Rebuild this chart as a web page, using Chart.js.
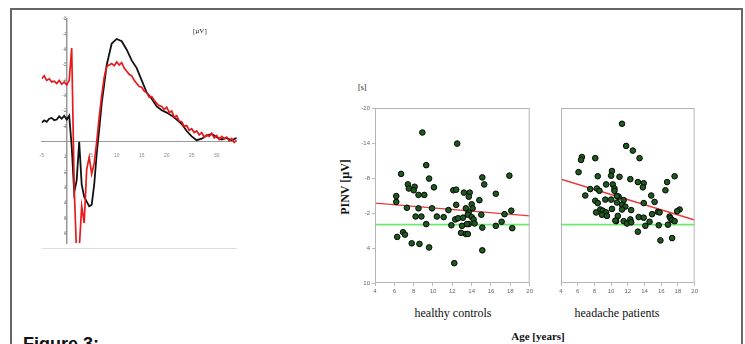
<!DOCTYPE html>
<html>
<head>
<meta charset="utf-8">
<script src="https://cdn.jsdelivr.net/npm/chart.js@4.4.1/dist/chart.umd.min.js"></script>
<style>
  body { margin: 0; width: 745px; height: 344px; overflow: hidden; background: #fff; position: relative; }
  .frame { position: absolute; left: 10px; top: 8px; width: 729px; height: 400px; border: 2px solid #666; border-bottom: none; }
  canvas { position: absolute; }
  .lbl { position: absolute; white-space: nowrap; color: #111; font-family: "Liberation Serif", "DejaVu Serif", serif; }
</style>
</head>
<body>
<div class="frame"></div>
<canvas id="erp" style="left:32px;top:12px;width:210px;height:239px"></canvas>
<canvas id="ctrl" style="left:355px;top:100px;width:180px;height:200px"></canvas>
<canvas id="pat" style="left:535px;top:100px;width:165px;height:200px"></canvas>

<div class="lbl" style="left:193px;top:27px;font-size:7px;">[µV]</div>
<div class="lbl" style="left:358px;top:83px;font-size:8px;">[s]</div>
<div class="lbl" style="left:345px;top:187px;font-size:12px;font-weight:bold;transform:translate(-50%,-50%) rotate(-90deg);">PINV [µV]</div>
<div class="lbl" style="left:453px;top:306px;font-size:12px;transform:translateX(-50%);">healthy controls</div>
<div class="lbl" style="left:617px;top:306px;font-size:12px;transform:translateX(-50%);">headache patients</div>
<div class="lbl" style="left:538px;top:330px;font-size:11px;font-weight:bold;transform:translateX(-50%);">Age [years]</div>
<div class="lbl" style="left:23px;top:334px;font-size:18px;font-weight:bold;font-family:'Liberation Sans', Arial, sans-serif;">Figure 3:</div>

<script>
// ERP-криві (час у 100 мс, амплітуда в мкВ, негатив догори)
const blackTime = [-5, -4.5, -4, -3.5, -3, -2.5, -2, -1.5, -1, -0.5, 0, 0.5, 1, 1.5, 2, 2.5, 3, 3.5, 4, 4.5, 5, 5.5, 6, 6.5, 7,
  8, 9, 10, 11, 12, 13, 14, 15, 16, 17, 18, 19, 20, 21, 22, 23, 24, 25, 26, 27, 28, 29, 30, 31, 32, 33, 34];
const erpBlack = [-1.25, -1.4, -1.3, -1.5, -1.55, -1.4, -1.45, -1.65, -1.5, -1.7, -1.45, -1.7, 0.3, 3.3, 2.5, 0.0, 2.8, 3.6, 3.9, 4.2, 4.1, 2.8, 0.8, -0.8, -2.5,
  -5.0, -6.4, -6.7, -6.55, -6.0, -5.3, -4.8, -4.0, -3.2, -2.8, -2.3, -2.05, -1.9, -1.7, -1.45, -1.15, -0.7, -0.35, -0.1, -0.2, -0.4, -0.5, -0.3, -0.15, -0.25, -0.1, -0.25];
const redTime = [-5, -4.5, -4, -3.5, -3, -2.5, -2, -1.5, -1, -0.5, 0, 0.5, 1, 1.5, 2, 2.5, 3, 3.5, 4, 4.5,
  5, 5.5, 6, 6.5, 7, 7.5, 8, 8.5, 9, 9.5, 10, 10.5, 11, 11.5, 12, 12.5, 13, 13.5, 14, 14.5,
  15, 15.5, 16, 16.5, 17, 17.5, 18, 18.5, 19, 19.5, 20, 20.5, 21, 21.5, 22, 22.5, 23, 23.5, 24, 24.5,
  25, 25.5, 26, 26.5, 27, 27.5, 28, 28.5, 29, 29.5, 30, 30.5, 31, 31.5, 32, 32.5, 33, 33.5, 34];
const erpRed = [-4.1, -4.3, -4.0, -4.1, -3.9, -3.95, -3.8, -4.0, -3.75, -3.9, -3.7, -4.0, -6.1, 3.0, 7.5, 7.0, 4.2, 5.3, 1.8, 1.0,
  2.1, 1.4, 0.0, -1.6, -3.0, -4.2, -4.9, -5.0, -5.1, -4.95, -5.2, -5.0, -5.15, -4.8, -4.6, -4.4, -4.3, -4.0, -3.8, -3.6,
  -3.55, -3.3, -3.2, -2.9, -2.95, -2.7, -2.5, -2.35, -2.3, -2.1, -2.25, -1.9, -2.0, -1.6, -1.7, -1.35, -1.3, -1.0, -1.05, -0.75,
  -0.85, -0.6, -0.7, -0.45, -0.6, -0.3, -0.45, -0.35, -0.55, -0.25, -0.4, -0.15, -0.35, -0.2, -0.3, -0.05, -0.2, 0.05, -0.1];
const erpXTicks = [-5, 5, 10, 15, 20, 25, 30];
const erpYTicks = [-8, -7, -6, -5, -4, -3, -2, -1, 1, 2, 3, 4, 5, 6];

// PINV за віком
const controlAges = [8.9, 12.5, 9.3, 6.7, 9.6, 17.9, 15.1, 15.3, 7.4, 8.1, 7.5, 8.0, 8.5, 9.1, 10.1, 6.2, 6.2, 12.1, 12.4, 13.2,
  13.8, 13.7, 16.5, 14.8, 7.3, 8.5, 9.9, 11.6, 12.4, 13.4, 14.0, 14.1, 13.7, 8.2, 8.8, 10.4, 11.1, 15.0, 18.1, 17.4,
  9.3, 11.9, 12.3, 12.6, 13.1, 13.6, 14.0, 14.2, 13.7, 13.5, 13.0, 14.3, 15.1, 16.5, 17.1, 18.2, 6.3, 6.9, 7.1, 7.8,
  8.6, 9.6, 12.9, 13.4, 13.6, 15.1, 12.2];
const controlValues = [-15.8, -13.9, -10.2, -8.7, -7.9, -8.4, -8.1, -6.9, -6.9, -6.5, -6.2, -5.9, -5.1, -5.1, -6.4, -4.9, -3.9, -5.9, -6.0, -5.5,
  -5.5, -4.8, -5.3, -4.2, -2.9, -2.8, -2.8, -2.5, -3.4, -2.8, -3.5, -2.8, -2.1, -1.4, -1.4, -1.4, -1.3, -1.7, -2.4, -1.8,
  -0.1, 0.1, -0.9, -1.1, -1.2, -1.7, -1.3, -0.9, -0.1, -0.1, 0.2, -0.2, 0.5, 0.2, -0.5, 0.6, 2.1, 1.3, 1.7, 3.2,
  3.3, 3.9, 1.4, 1.6, 1.6, 4.4, 6.6];
const patientAges = [11.3, 11.8, 12.6, 13.4, 6.5, 6.4, 8.1, 6.1, 10.1, 10.0, 11.0, 8.4, 12.3, 13.2, 13.9, 13.8, 10.2, 10.4, 9.4, 7.5,
  8.3, 8.6, 6.9, 10.4, 10.9, 10.7, 8.1, 9.3, 10.0, 11.5, 10.7, 8.4, 11.3, 11.7, 13.9, 14.8, 15.2, 16.5, 16.7, 17.6,
  8.2, 8.7, 9.0, 9.4, 8.9, 9.5, 10.1, 11.3, 12.4, 10.8, 10.6, 10.5, 11.5, 11.9, 12.3, 12.4, 13.3, 13.9, 14.6, 14.9,
  15.6, 15.8, 15.7, 14.1, 13.2, 17.0, 17.1, 17.3, 17.6, 18.2, 17.9, 16.8, 17.3, 15.9];
const patientValues = [-17.3, -13.5, -12.7, -11.4, -11.6, -11.1, -11.4, -9.0, -9.2, -8.4, -8.2, -8.3, -7.8, -7.3, -7.1, -6.4, -6.9, -6.2, -6.9, -6.1,
  -6.2, -5.8, -5.0, -5.8, -4.8, -4.9, -4.1, -4.3, -4.3, -4.2, -3.8, -3.7, -3.4, -3.1, -3.7, -5.0, -3.9, -5.9, -7.3, -8.3,
  -2.1, -2.6, -2.4, -2.1, -1.7, -1.5, -2.7, -2.6, -2.5, -1.5, -0.6, -0.7, -0.6, -0.2, -0.9, -0.4, -1.3, -1.2, -0.5, -1.8,
  -2.2, -2.1, 0.1, 0.2, 1.2, -1.4, -1.1, -0.8, -0.6, -2.6, -2.3, 0.0, 2.3, 2.7];
const fitAges = [4, 20];
const controlFit = [-3.7, -1.5];
const patientFit = [-7.8, -0.8];
const baseline = [0, 0];
const ageTicks = [4, 6, 8, 10, 12, 14, 16, 18, 20];
const pinvTicks = [-20, -14, -8, -2, 4, 10];

const pts = (xs, ys) => xs.map((x, i) => ({ x: x, y: ys[i] }));
const setTicks = vals => scale => { scale.ticks = vals.map(v => ({ value: v })); };

// ERP графік
new Chart(document.getElementById('erp'), {
  type: 'line',
  data: {
    datasets: [
      { data: pts(redTime, erpRed), borderColor: '#e8191c', borderWidth: 1.7, pointRadius: 0, tension: 0 },
      { data: pts(blackTime, erpBlack), borderColor: '#111', borderWidth: 1.8, pointRadius: 0, tension: 0 }
    ]
  },
  options: {
    responsive: false, animation: false,
    layout: { padding: { left: 9.7, right: 5.3, top: 7, bottom: 8 } },
    plugins: { legend: { display: false }, tooltip: { enabled: false } },
    scales: {
      x: {
        type: 'linear', min: -5, max: 34, position: { y: 0 },
        afterBuildTicks: setTicks(erpXTicks),
        grid: { display: false },
        border: { color: '#999', width: 1, dash: [2, 1] },
        ticks: { font: { size: 5 }, color: '#888', padding: 3 }
      },
      y: {
        type: 'linear', min: -8, max: 6.6, reverse: true, position: { x: 0 },
        afterBuildTicks: setTicks(erpYTicks),
        grid: { drawOnChartArea: false, tickLength: 2, color: '#aaa' },
        border: { color: '#999', width: 1.5 },
        ticks: { font: { size: 5 }, color: '#888', padding: 1 }
      }
    }
  },
  plugins: [{
    id: 'bottomRule',
    afterDraw(chart) {
      const { ctx, chartArea } = chart;
      ctx.save();
      ctx.strokeStyle = '#ddd';
      ctx.lineWidth = 1;
      ctx.beginPath();
      ctx.moveTo(chartArea.left, chartArea.bottom + 5.5);
      ctx.lineTo(chartArea.right, chartArea.bottom + 5.5);
      ctx.stroke();
      ctx.restore();
    }
  }]
});

// Рамка області графіка
const frame = {
  id: 'frame',
  afterDraw(chart) {
    const { ctx, chartArea: a } = chart;
    ctx.save();
    ctx.strokeStyle = '#b5b5b5';
    ctx.lineWidth = 1;
    ctx.strokeRect(a.left + 0.5, a.top + 0.5, a.right - a.left - 1, a.bottom - a.top - 1);
    ctx.restore();
  }
};

function scatterPanel(id, ages, values, fit, showY, pad) {
  return new Chart(document.getElementById(id), {
    type: 'scatter',
    data: {
      datasets: [
        { data: pts(ages, values), backgroundColor: '#1d5a1d', borderColor: '#050505', borderWidth: 1, pointRadius: 2.8 },
        { type: 'line', data: pts(fitAges, fit), borderColor: '#e83a3a', borderWidth: 1.4, pointRadius: 0 },
        { type: 'line', data: pts(fitAges, baseline), borderColor: '#6ee86e', borderWidth: 1.6, pointRadius: 0 }
      ]
    },
    options: {
      responsive: false, animation: false,
      layout: { padding: pad },
      plugins: { legend: { display: false }, tooltip: { enabled: false } },
      scales: {
        x: {
          type: 'linear', min: 4, max: 20,
          afterBuildTicks: setTicks(ageTicks),
          afterFit: s => { s.height = 17; },
          grid: { drawOnChartArea: false, tickLength: 3, color: '#bbb' },
          border: { display: false },
          ticks: { font: { size: 6 }, color: '#666', padding: 2 }
        },
        y: {
          type: 'linear', min: -20, max: 10, reverse: true, display: showY,
          afterBuildTicks: setTicks(pinvTicks),
          afterFit: s => { s.width = 20; },
          grid: { drawOnChartArea: false, tickLength: 3, color: '#bbb' },
          border: { display: false },
          ticks: { font: { size: 6 }, color: '#666', padding: 2 }
        }
      }
    },
    plugins: [frame]
  });
}

scatterPanel('ctrl', controlAges, controlValues, controlFit, true, { left: 0, right: 5, top: 8, bottom: 0 });
scatterPanel('pat', patientAges, patientValues, patientFit, false, { left: 6, right: 5, top: 8, bottom: 0 });
</script>
</body>
</html>
